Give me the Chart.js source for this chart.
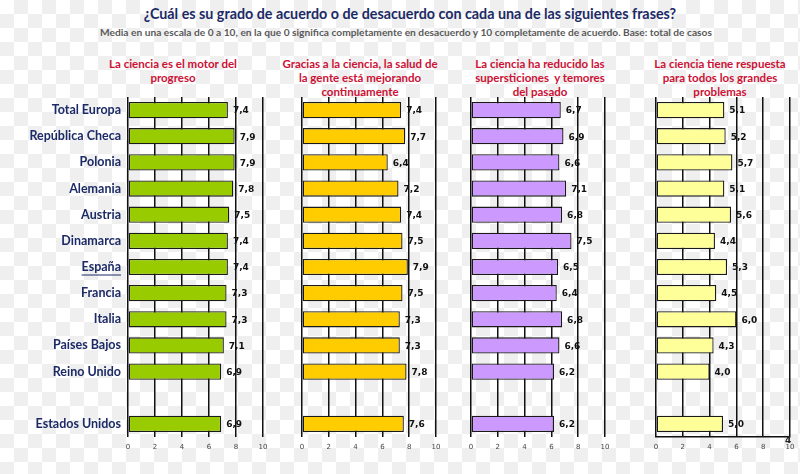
<!DOCTYPE html>
<html lang="es">
<head>
<meta charset="utf-8">
<title>Grado de acuerdo con frases sobre la ciencia</title>
<script src="https://cdn.jsdelivr.net/npm/chart.js@4.4.1/dist/chart.umd.min.js"></script>
<style>
  html, body { margin: 0; padding: 0; }
  body {
    width: 800px; height: 474px; position: relative; overflow: hidden;
    background-color: #fff;
    background-image: conic-gradient(#efefef 25%, #fff 0 50%, #efefef 0 75%, #fff 0);
    background-size: 28px 28px;
    font-family: Lato, 'Open Sans', sans-serif;
  }
  .title {
    position: absolute; left: 0; width: 820px; top: 5px; text-align: center;
    color: #1c2a66; font-size: 14.3px; font-weight: 700;
  }
  .subtitle {
    position: absolute; left: 0; width: 812px; top: 26px; text-align: center;
    color: #5a5a5a; font-size: 10.2px; font-weight: 700;
  }
  .ptitle {
    position: absolute; top: 57px; text-align: center;
    color: #cc1136; font-size: 11.5px; font-weight: 700; line-height: 14px;
  }
  .panel { position: absolute; }
  .stray { position: absolute; left: 785px; top: 435px; font: bold 9px 'DejaVu Sans'; color: #222; }
</style>
</head>
<body>
<div class="title">¿Cuál es su grado de acuerdo o de desacuerdo con cada una de las siguientes frases?</div>
<div class="subtitle">Media en una escala de 0 a 10, en la que 0 significa completamente en desacuerdo y 10 completamente de acuerdo. Base: total de casos</div>

<div class="ptitle" style="left:98px;width:150px">La ciencia es el motor del<br>progreso</div>
<div class="ptitle" style="left:275px;width:170px">Gracias a la ciencia, la salud de<br>la gente está mejorando<br>continuamente</div>
<div class="ptitle" style="left:460px;width:160px">La ciencia ha reducido las<br>supersticiones&nbsp; y temores<br>del pasado</div>
<div class="ptitle" style="left:640px;width:160px">La ciencia tiene respuesta<br>para todos los grandes<br>problemas</div>

<canvas id="p1" class="panel"></canvas>
<canvas id="p2" class="panel"></canvas>
<canvas id="p3" class="panel"></canvas>
<canvas id="p4" class="panel"></canvas>
<div class="stray">4</div>

<script>
  const countries = ['Total Europa', 'República Checa', 'Polonia', 'Alemania', 'Austria', 'Dinamarca',
                     'España', 'Francia', 'Italia', 'Países Bajos', 'Reino Unido', '', 'Estados Unidos'];
  const motorProgreso   = [7.4, 7.9, 7.9, 7.8, 7.5, 7.4, 7.4, 7.3, 7.3, 7.1, 6.9, null, 6.9];
  const saludGente      = [7.4, 7.7, 6.4, 7.2, 7.4, 7.5, 7.9, 7.5, 7.3, 7.3, 7.8, null, 7.6];
  const supersticiones  = [6.7, 6.9, 6.6, 7.1, 6.8, 7.5, 6.5, 6.4, 6.8, 6.6, 6.2, null, 6.2];
  const respuestaTodo   = [5.1, 5.2, 5.7, 5.1, 5.6, 4.4, 5.3, 4.5, 6.0, 4.3, 4.0, null, 5.0];
  const xTicks = [0, 2, 4, 6, 8, 10];

  const TOP = 97, AREA_H = 340, AXIS_H = 18, PAD = 8;

  // value labels "7,4" right of each bar
  const valueLabels = {
    id: 'valueLabels',
    afterDatasetsDraw(chart) {
      const ctx = chart.ctx;
      const meta = chart.getDatasetMeta(0);
      const data = chart.data.datasets[0].data;
      ctx.save();
      ctx.font = 'bold 9px "DejaVu Sans"';
      ctx.fillStyle = '#111';
      ctx.textBaseline = 'middle';
      meta.data.forEach((bar, i) => {
        if (data[i] == null) return;
        ctx.fillText(data[i].toFixed(1).replace('.', ','), bar.x + 5, bar.y + 1);
      });
      ctx.restore();
    }
  };

  // underline for España
  const underline = {
    id: 'underline',
    afterDraw(chart) {
      const y = chart.scales.y;
      if (!y.options.display) return;
      const idx = countries.indexOf('España');
      const ctx = chart.ctx;
      ctx.save();
      ctx.font = y.options.ticks.font.weight + ' ' + y.options.ticks.font.size + 'px ' + y.options.ticks.font.family;
      const w = ctx.measureText('España').width;
      const right = chart.chartArea.left - y.options.ticks.padding;
      const py = y.getPixelForTick(idx) + 8;
      ctx.strokeStyle = '#1c2a66';
      ctx.lineWidth = 1;
      ctx.beginPath();
      ctx.moveTo(right - w, py);
      ctx.lineTo(right, py);
      ctx.stroke();
      ctx.restore();
    }
  };

  function makePanel(id, values, color, zeroX, tenX, withLabels, bottomLine) {
    const canvas = document.getElementById(id);
    const left = withLabels ? 0 : zeroX - PAD;
    const width = tenX - left + PAD;
    const height = AREA_H + AXIS_H;
    canvas.style.left = left + 'px';
    canvas.style.top = TOP + 'px';
    canvas.style.width = width + 'px';
    canvas.style.height = height + 'px';
    canvas.width = width;
    canvas.height = height;

    new Chart(canvas, {
      type: 'bar',
      data: {
        labels: countries,
        datasets: [{
          data: values,
          backgroundColor: color,
          borderColor: '#1a1a1a',
          borderWidth: 1.3,
          borderSkipped: false,
          barPercentage: 0.62,
          categoryPercentage: 1,
        }],
      },
      options: {
        indexAxis: 'y',
        responsive: false,
        animation: false,
        layout: { padding: { left: withLabels ? 0 : PAD, right: PAD, top: 0, bottom: 0 } },
        plugins: { legend: { display: false }, tooltip: { enabled: false } },
        scales: {
          x: {
            min: 0, max: 10,
            afterBuildTicks: (s) => { s.ticks = xTicks.map(v => ({ value: v })); },
            afterFit: (s) => { s.height = AXIS_H; s.paddingLeft = 0; s.paddingRight = 0; },
            grid: { color: '#111', lineWidth: 1.5, drawTicks: false },
            border: { display: bottomLine, color: '#111', width: 1.5 },
            ticks: { font: { family: 'DejaVu Sans', size: 7 }, color: '#444', padding: 6 },
          },
          y: {
            display: withLabels,
            afterFit: (s) => {
              if (withLabels) s.width = zeroX;
              s.paddingTop = 0; s.paddingBottom = 0;
            },
            grid: { display: false, drawTicks: false },
            border: { display: false },
            ticks: { font: { family: 'Lato', size: 12.5, weight: 'bold' }, color: '#1c2a66', padding: 7, autoSkip: false },
          },
        },
      },
      plugins: [valueLabels, underline],
    });
  }

  makePanel('p1', motorProgreso,  '#99cc00', 128, 263, true,  false);
  makePanel('p2', saludGente,     '#ffcc00', 302, 436, false, false);
  makePanel('p3', supersticiones, '#cc99ff', 471, 605, false, false);
  makePanel('p4', respuestaTodo,  '#ffff99', 656, 790, false, true);
</script>
</body>
</html>
